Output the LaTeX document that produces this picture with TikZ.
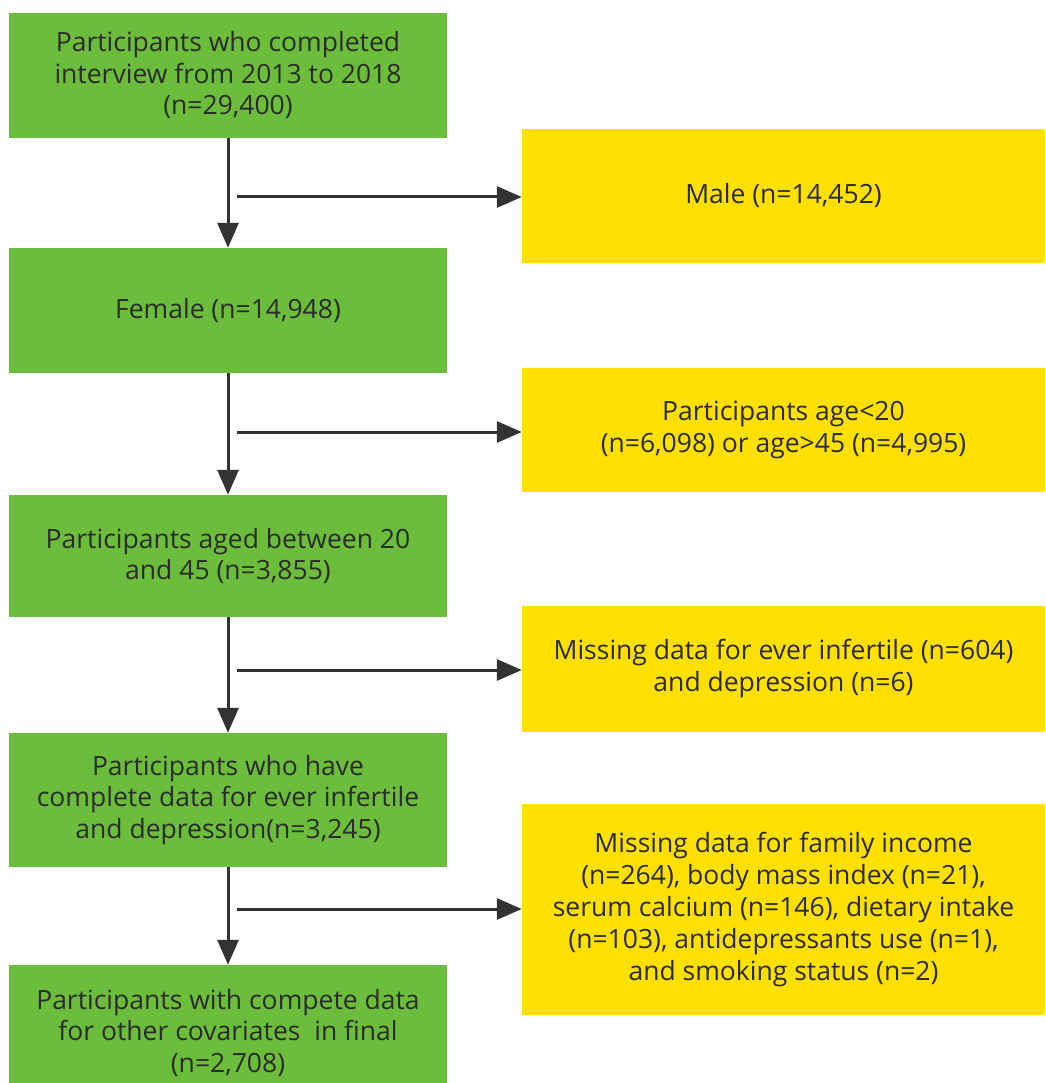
\documentclass[tikz,border=0pt]{standalone}
\usepackage{fontspec}
\setmainfont{Open Sans}
\usetikzlibrary{arrows.meta}
\definecolor{gbox}{HTML}{6CBD3C}
\definecolor{ybox}{HTML}{FFE000}
\definecolor{ink}{HTML}{2B2B2B}
\definecolor{arr}{HTML}{333333}
\tikzset{
  gnode/.style={fill=gbox, draw=none, minimum width=438pt, inner sep=0pt, align=center, text=ink, font=\fontsize{26.5}{31.5}\selectfont},
  ynode/.style={fill=ybox, draw=none, minimum width=523pt, inner sep=0pt, align=center, text=ink, font=\fontsize{26.5}{32}\selectfont},
  flow/.style={draw=arr, line width=3pt, -{Triangle[length=25pt,width=21pt]}},
}
\begin{document}
\begin{tikzpicture}[x=1pt,y=-1pt]
\useasboundingbox (0,0) rectangle (1045,1083);
\fill[white] (0,0) rectangle (1045,1083);
\begin{scope}
\clip (0,0) rectangle (1045,1083);
% green column
\node[gnode, minimum height=125pt] (g1) at (228,75.5) {Participants who completed\\interview from 2013 to 2018\\(n=29,400)};
\node[gnode, minimum height=125pt] (g2) at (228,310.5) {Female (n=14,948)};
\node[gnode, minimum height=122pt] (g3) at (228,556) {Participants aged between 20\\and 45 (n=3,855)};
\node[gnode, minimum height=134pt] (g4) at (228,800) {Participants who have\\complete data for ever infertile\\and depression(n=3,245)};
\node[gnode, minimum height=136pt] (g5) at (228,1033) {Participants with compete data\\for other covariates\ \ in final\\(n=2,708)};
% yellow column
\node[ynode, minimum height=134pt] (y1) at (783.5,196) {Male (n=14,452)};
\node[ynode, minimum height=124pt] (y2) at (783.5,430) {Participants age<20\\(n=6,098) or age>45 (n=4,995)};
\node[ynode, minimum height=126pt] (y3) at (783.5,669) {Missing data for ever infertile (n=604)\\and depression (n=6)};
\node[ynode, minimum height=211pt] (y4) at (783.5,909.5) {Missing data for family income\\(n=264), body mass index (n=21),\\serum calcium (n=146), dietary intake\\(n=103), antidepressants use (n=1),\\and smoking status (n=2)};
\end{scope}
% branch starts
\coordinate (b1) at (237,197);
\coordinate (b2) at (237,432);
\coordinate (b3) at (237,670);
\coordinate (b4) at (237,909);
% vertical arrows
\draw[flow] (g1) -- (g2);
\draw[flow] (g2) -- (g3);
\draw[flow] (g3) -- (g4);
\draw[flow] (g4) -- (g5);
% horizontal arrows
\draw[flow] (b1) -- (b1 -| y1.west);
\draw[flow] (b2) -- (b2 -| y2.west);
\draw[flow] (b3) -- (b3 -| y3.west);
\draw[flow] (b4) -- (b4 -| y4.west);
\end{tikzpicture}
\end{document}
